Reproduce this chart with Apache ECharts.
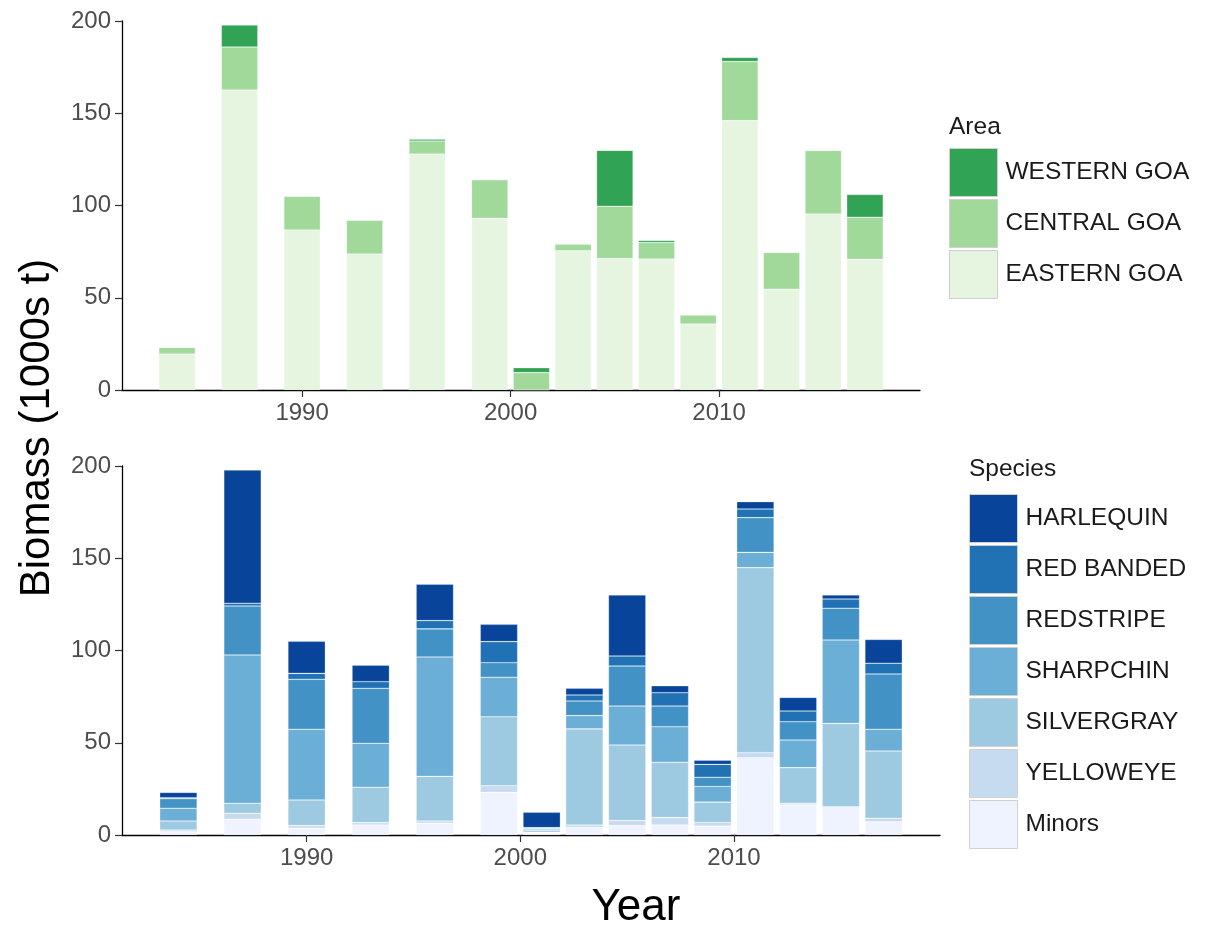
<!DOCTYPE html>
<html><head><meta charset="utf-8">
<script src="https://cdn.jsdelivr.net/npm/echarts@6/dist/echarts.min.js"></script>
<style>html,body{margin:0;padding:0;background:#fff}#c{width:1211px;height:930px}</style>
</head><body><div id="c"></div><script>
// ---- data ----
const years = [1984,1987,1990,1993,1996,1999,2001,2003,2005,2007,2009,2011,2013,2015,2017];
const xTicks = [1990, 2000, 2010];
const yTicks = [0, 50, 100, 150, 200];

const areaNames = ['WESTERN GOA','CENTRAL GOA','EASTERN GOA'];
const eastern = [19.5,162.6,86.7,73.7,127.9,93.0,0.0,75.5,71.2,71.0,35.8,146.0,54.6,95.4,70.8];
const central = [3.6,23.3,18.3,18.4,7.1,21.0,9.4,3.6,28.4,8.9,4.9,32.0,20.0,34.5,22.8];
const western = [0,11.9,0,0,1.0,0,2.7,0,30.3,1.2,0,2.3,0,0.2,12.4];

const speciesNames = ['HARLEQUIN','RED BANDED','REDSTRIPE','SHARPCHIN','SILVERGRAY','YELLOWEYE','Minors'];
const harlequin  = [2.9,72.2,17.4,9.0,19.7,9.4,8.3,3.6,33.1,3.8,2.2,4.0,7.4,2.2,12.9];
const redBanded  = [0.5,1.5,3.2,3.6,4.5,11.4,0.4,3.3,5.4,7.2,7.0,4.7,5.8,5.0,5.8];
const redstripe  = [5.2,26.5,27.1,29.8,15.2,7.9,0.6,7.9,21.7,11.2,5.0,18.8,9.9,17.2,30.0];
const sharpchin  = [6.9,80.4,38.3,23.8,64.7,21.4,0.6,7.2,21.1,19.3,8.5,8.3,15.0,45.2,11.8];
const silvergray = [4.9,5.4,13.9,19.2,24.2,37.4,1.0,52.1,41.0,30.0,11.0,100.3,19.3,45.2,36.4];
const yelloweye  = [1.0,3.3,1.5,1.3,1.3,3.6,0.4,1.4,2.7,4.0,2.0,2.7,0.9,0.5,1.9];
const minors     = [1.7,8.5,3.6,5.4,6.3,23.1,1.0,4.0,5.1,5.4,4.8,41.9,16.3,14.8,7.2];

// ---- styles ----
const FONT = 'Liberation Sans, Arial, sans-serif';
const greens = {'WESTERN GOA':'#31a354','CENTRAL GOA':'#a1d99b','EASTERN GOA':'#e5f5e0'};
const blues = {'HARLEQUIN':'#08459a','RED BANDED':'#2171b5','REDSTRIPE':'#4292c6','SHARPCHIN':'#6baed6','SILVERGRAY':'#9ecae1','YELLOWEYE':'#c6dbef','Minors':'#eff3ff'};
const X_MIN = 1981.36, X_MAX = 2019.64;
const grids = [
  {left:122, top:21, width:798, height:369},
  {left:122, top:466, width:818, height:369}
];
const barW = g => 1.75 * g.width / (X_MAX - X_MIN);

function xAxis(i){
  return {type:'value', gridIndex:i, min:X_MIN, max:X_MAX,
    splitLine:{show:false},
    axisLine:{onZero:false, lineStyle:{color:'#000', width:1.3}},
    axisTick:{customValues:xTicks, length:7, lineStyle:{color:'#333', width:1.2}},
    axisLabel:{customValues:xTicks, fontSize:24, color:'#4d4d4d', margin:11, fontFamily:FONT,
      formatter: v => String(v)}};
}
function yAxis(i){
  return {type:'value', gridIndex:i, min:yTicks[0], max:yTicks[yTicks.length-1], interval:50,
    splitLine:{show:false},
    axisLine:{show:true, onZero:false, lineStyle:{color:'#000', width:1.3}},
    axisTick:{show:true, length:7, lineStyle:{color:'#333', width:1.2}},
    axisLabel:{fontSize:24, color:'#4d4d4d', margin:11, fontFamily:FONT}};
}
function bar(name, arr, gi, stack, color){
  return {name, type:'bar', xAxisIndex:gi, yAxisIndex:gi, stack,
    barWidth: barW(grids[gi]),
    encode:{x:1, y:0},
    data: years.map((y,k)=>[arr[k], y]),
    itemStyle:{color, borderColor:'rgba(255,255,255,0.45)', borderWidth:0.6},
    emphasis:{disabled:true}};
}

const series = [
  bar('EASTERN GOA', eastern, 0, 'area', greens['EASTERN GOA']),
  bar('CENTRAL GOA', central, 0, 'area', greens['CENTRAL GOA']),
  bar('WESTERN GOA', western, 0, 'area', greens['WESTERN GOA']),
  bar('Minors', minors, 1, 'sp', blues['Minors']),
  bar('YELLOWEYE', yelloweye, 1, 'sp', blues['YELLOWEYE']),
  bar('SILVERGRAY', silvergray, 1, 'sp', blues['SILVERGRAY']),
  bar('SHARPCHIN', sharpchin, 1, 'sp', blues['SHARPCHIN']),
  bar('REDSTRIPE', redstripe, 1, 'sp', blues['REDSTRIPE']),
  bar('RED BANDED', redBanded, 1, 'sp', blues['RED BANDED']),
  bar('HARLEQUIN', harlequin, 1, 'sp', blues['HARLEQUIN'])
];

const legendCommon = {orient:'vertical', itemWidth:48, itemHeight:48, itemGap:2, icon:'rect',
  selectedMode:false, padding:0,
  textStyle:{fontSize:24.5, color:'#1a1a1a', fontFamily:FONT, padding:[0,0,0,3]},
  itemStyle:{borderColor:'#d0d0d0', borderWidth:1}};

const option = {
  animation:false,
  backgroundColor:'#fff',
  grid: grids,
  xAxis:[xAxis(0), xAxis(1)],
  yAxis:[yAxis(0), yAxis(1)],
  series,
  legend:[
    Object.assign({}, legendCommon, {data:areaNames, left:949, top:148}),
    Object.assign({}, legendCommon, {data:speciesNames, left:969, top:494})
  ],
  title:[
    {text:'Area', left:949, top:115, padding:0, textStyle:{fontSize:24.5, fontWeight:'normal', color:'#1a1a1a', fontFamily:FONT}},
    {text:'Species', left:969, top:457, padding:0, textStyle:{fontSize:24.5, fontWeight:'normal', color:'#1a1a1a', fontFamily:FONT}}
  ],
  graphic:[
    {type:'text', x:37, y:428, rotation:Math.PI/2,
      style:{text:'Biomass (1000s t)', fontSize:42, fontFamily:FONT, fill:'#000', textAlign:'center', textVerticalAlign:'middle'}},
    {type:'text', x:636, y:908,
      style:{text:'Year', fontSize:44, fontFamily:FONT, fill:'#000', textAlign:'center', textVerticalAlign:'middle'}}
  ]
};
const chart = echarts.init(document.getElementById('c'), null, {renderer:'canvas'});
chart.setOption(option);
</script></body></html>
